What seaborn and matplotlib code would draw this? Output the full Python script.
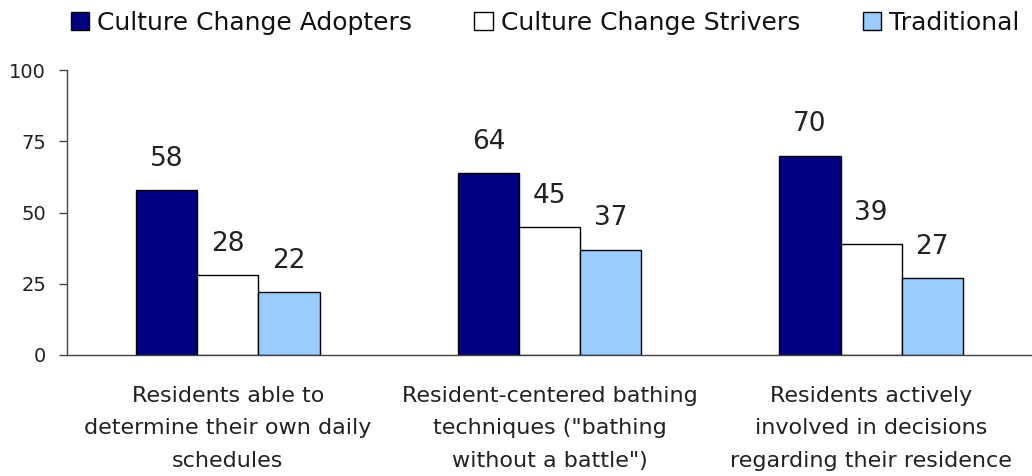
import pandas as pd
import seaborn as sns
import matplotlib.pyplot as plt
from matplotlib.patches import Patch

categories = [
    "Residents able to\ndetermine their own daily\nschedules",
    "Resident-centered bathing\ntechniques (\"bathing\nwithout a battle\")",
    "Residents actively\ninvolved in decisions\nregarding their residence",
]
groups = ["Culture Change Adopters", "Culture Change Strivers", "Traditional"]
adopters = [58, 64, 70]
strivers = [28, 45, 39]
traditional = [22, 37, 27]
colors = ["#000080", "#FFFFFF", "#99CCFF"]

df = pd.DataFrame({
    "category": categories * 3,
    "group": [g for g in groups for _ in categories],
    "value": adopters + strivers + traditional,
})

sns.set_style("white")
plt.rcParams["font.family"] = ["DejaVu Sans"]

fig = plt.figure(figsize=(10.32, 4.76), dpi=100)
ax = fig.add_axes([67 / 1032, 121 / 476, 1 - 67 / 1032, 285 / 476])

sns.barplot(data=df, x="category", y="value", hue="group", palette=colors,
            saturation=1, edgecolor="black", linewidth=1, width=0.57, ax=ax, legend=False)

for cont in ax.containers:
    ax.bar_label(cont, fmt="%g", padding=13, fontsize=19, color="#222222")

ax.set_xlim(-0.5, 2.5)
ax.set_ylim(0, 100)
ax.set_yticks([0, 25, 50, 75, 100])
ax.set_xlabel("")
ax.set_ylabel("")
ax.set_xticks([0, 1, 2])
ax.set_xticklabels(categories, fontsize=16, linespacing=1.8, color="#222222")
ax.set_xticks([-0.5, 0.5, 1.5, 2.5], minor=True)
ax.tick_params(axis="x", which="major", length=0, pad=22)
ax.tick_params(axis="x", which="minor", length=6, width=1, color="#444444", direction="out")
ax.tick_params(axis="y", length=6, width=1, color="#444444", direction="out", pad=9,
               labelsize=14, labelcolor="#222222", left=True)

sns.despine(ax=ax)
for s in ["left", "bottom"]:
    ax.spines[s].set_color("#444444")
    ax.spines[s].set_linewidth(1)

handles = [Patch(facecolor=c, edgecolor="black", linewidth=1) for c in colors]
fig.legend(handles, groups, loc="center", bbox_to_anchor=(0.528, 0.952), ncol=3,
           frameon=False, fontsize=18, handlelength=0.75, handleheight=0.75,
           handletextpad=0.3, columnspacing=2.5, labelcolor="#111111")

fig.savefig("out.png", dpi=100)
